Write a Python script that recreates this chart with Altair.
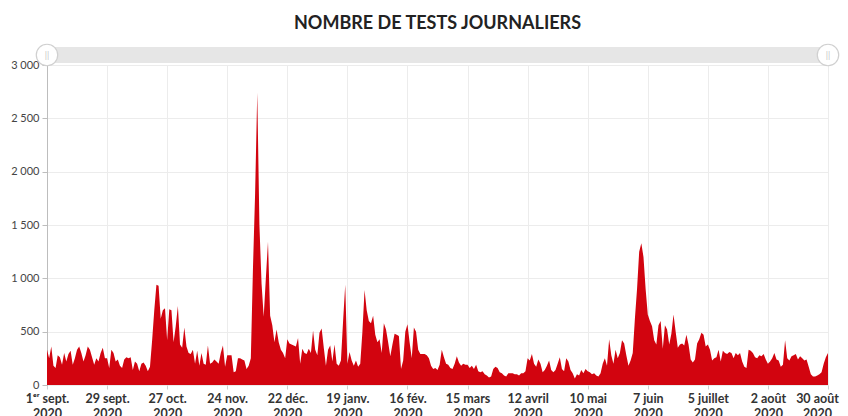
import altair as alt
import pandas as pd

# Daily values, one block per 28-day period (starting at each x tick)
b01 = [330, 250, 360, 180, 160, 280, 260, 190, 300, 220, 290, 320, 190, 250,
       330, 360, 300, 220, 280, 360, 330, 260, 190, 250, 220, 300, 350, 250]
b02 = [250, 160, 330, 300, 220, 240, 180, 160, 240, 260, 250, 260, 140, 220,
       200, 130, 200, 210, 180, 130, 170, 420, 700, 940, 930, 620, 700, 720]
b03 = [420, 710, 700, 400, 550, 740, 380, 350, 540, 360, 300, 290, 330, 200,
       320, 180, 300, 200, 190, 370, 200, 210, 240, 220, 200, 300, 370, 170]
b04 = [280, 280, 280, 120, 130, 250, 250, 240, 230, 150, 180, 250, 1100, 1800,
       2740, 1500, 950, 640, 1000, 1344, 650, 560, 400, 520, 400, 330, 300, 250]
b05 = [430, 390, 380, 370, 360, 440, 200, 340, 300, 290, 340, 300, 510, 330,
       280, 490, 530, 350, 180, 330, 370, 220, 380, 200, 180, 230, 600, 940]
b06 = [200, 310, 230, 180, 230, 170, 200, 500, 890, 700, 600, 580, 650, 470,
       400, 430, 300, 580, 520, 400, 270, 380, 480, 470, 460, 150, 230, 500]
b07 = [570, 400, 250, 540, 500, 330, 290, 290, 290, 280, 250, 180, 150, 160,
       140, 190, 330, 260, 200, 190, 160, 150, 200, 270, 210, 180, 200, 190]
b08 = [190, 160, 180, 150, 190, 130, 120, 130, 100, 90, 70, 80, 150, 170,
       160, 120, 110, 90, 80, 110, 110, 110, 100, 100, 90, 110, 110, 130]
b09 = [250, 230, 290, 200, 170, 240, 200, 120, 140, 180, 230, 140, 120, 140,
       200, 260, 150, 130, 250, 220, 140, 110, 60, 100, 90, 140, 110, 150]
b10 = [130, 120, 100, 110, 90, 80, 110, 200, 250, 180, 430, 280, 200, 330,
       250, 300, 420, 390, 280, 180, 230, 300, 620, 900, 1250, 1330, 1200, 900]
b11 = [660, 600, 550, 420, 380, 560, 600, 340, 560, 520, 380, 480, 660, 500,
       350, 380, 390, 370, 470, 380, 240, 210, 240, 390, 430, 490, 470, 360]
b12 = [380, 330, 230, 250, 260, 330, 220, 320, 300, 290, 310, 300, 250, 300,
       280, 300, 220, 170, 160, 330, 320, 300, 260, 250, 280, 270, 290, 240]
b13 = [200, 220, 250, 300, 240, 230, 170, 190, 420, 250, 230, 270, 280, 290,
       240, 270, 250, 230, 240, 170, 100, 80, 80, 90, 100, 120, 200, 260, 300]

values = b01 + b02 + b03 + b04 + b05 + b06 + b07 + b08 + b09 + b10 + b11 + b12 + b13

tick_names = ["1ᵉʳ sept.", "29 sept.", "27 oct.", "24 nov.", "22 déc.", "19 janv.",
              "16 fév.", "15 mars", "12 avril", "10 mai", "7 juin", "5 juillet",
              "2 août", "30 août"]
tick_year = "2020"
y_ticks = [0, 500, 1000, 1500, 2000, 2500, 3000]

df = pd.DataFrame({"day": list(range(len(values))), "value": values})
tick_days = [28 * i for i in range(len(tick_names))]
last_day = tick_days[-1]

names_js = "[" + ",".join("'" + n + "'" for n in tick_names) + "]"
x_label_expr = "[" + names_js + "[round(datum.value/28)], '" + tick_year + "']"

W, H = 781, 320
FONT = "Lato"

area = alt.Chart(df).mark_area(color="#d2040f", opacity=1).encode(
    x=alt.X("day:Q",
            scale=alt.Scale(domain=[0, last_day], nice=False, zero=False),
            axis=alt.Axis(values=tick_days, labelExpr=x_label_expr, title=None,
                          grid=True, gridColor="#ececec", domain=False,
                          tickColor="#cfcfcf", tickSize=4,
                          labelFont=FONT, labelFontSize=12.5, labelFontWeight="bold",
                          labelColor="#333333", labelPadding=3, labelLineHeight=15,
                          labelOffset=alt.ExprRef(expr=f"datum.value >= {last_day} ? -11 : 0"),
                          labelOverlap=False, labelFlush=False)),
    y=alt.Y("value:Q",
            scale=alt.Scale(domain=[0, 3000], nice=False),
            axis=alt.Axis(values=y_ticks, title=None,
                          labelExpr="replace(format(datum.value, ','), ',', ' ')",
                          grid=True, gridColor="#ececec", domainColor="#bdbdbd",
                          tickColor="#bdbdbd", tickSize=5,
                          labelFont=FONT, labelFontSize=11, labelColor="#444444",
                          labelPadding=3)),
)

one = alt.Data(values=[{"k": 1}])

bar = alt.Chart(one).mark_rect(color="#e6e6e6", cornerRadius=3).encode(
    x=alt.value(0), x2=alt.value(W), y=alt.value(-18), y2=alt.value(-2))

handles = alt.Chart(alt.Data(values=[{"p": 0}, {"p": W}])).mark_point(
    shape="circle", filled=True, fill="white", stroke="#d0d0d0", strokeWidth=1.2,
    size=460, opacity=1).encode(x=alt.X("p:Q", scale=None), y=alt.value(-10))

grips = alt.Chart(alt.Data(values=[{"p": 0}, {"p": W}])).mark_text(
    text="||", color="#c4c4c4", fontSize=9, font=FONT).encode(
    x=alt.X("p:Q", scale=None), y=alt.value(-10))

chart = alt.layer(area, bar, handles, grips).resolve_scale(x="independent").properties(
    width=W, height=H,
    autosize=alt.AutoSizeParams(type="none"),
    padding={"left": 39, "top": 57, "right": 12, "bottom": 31},
    title=alt.TitleParams("NOMBRE DE TESTS JOURNALIERS",
                          font=FONT, fontSize=18,
                          fontWeight="bold", color="#222222", anchor="middle",
                          frame="group", offset=9),
).configure_view(stroke=None).configure_axis(labelFont=FONT)

chart.save("out.html", embed_options={"renderer": "svg", "actions": False})
